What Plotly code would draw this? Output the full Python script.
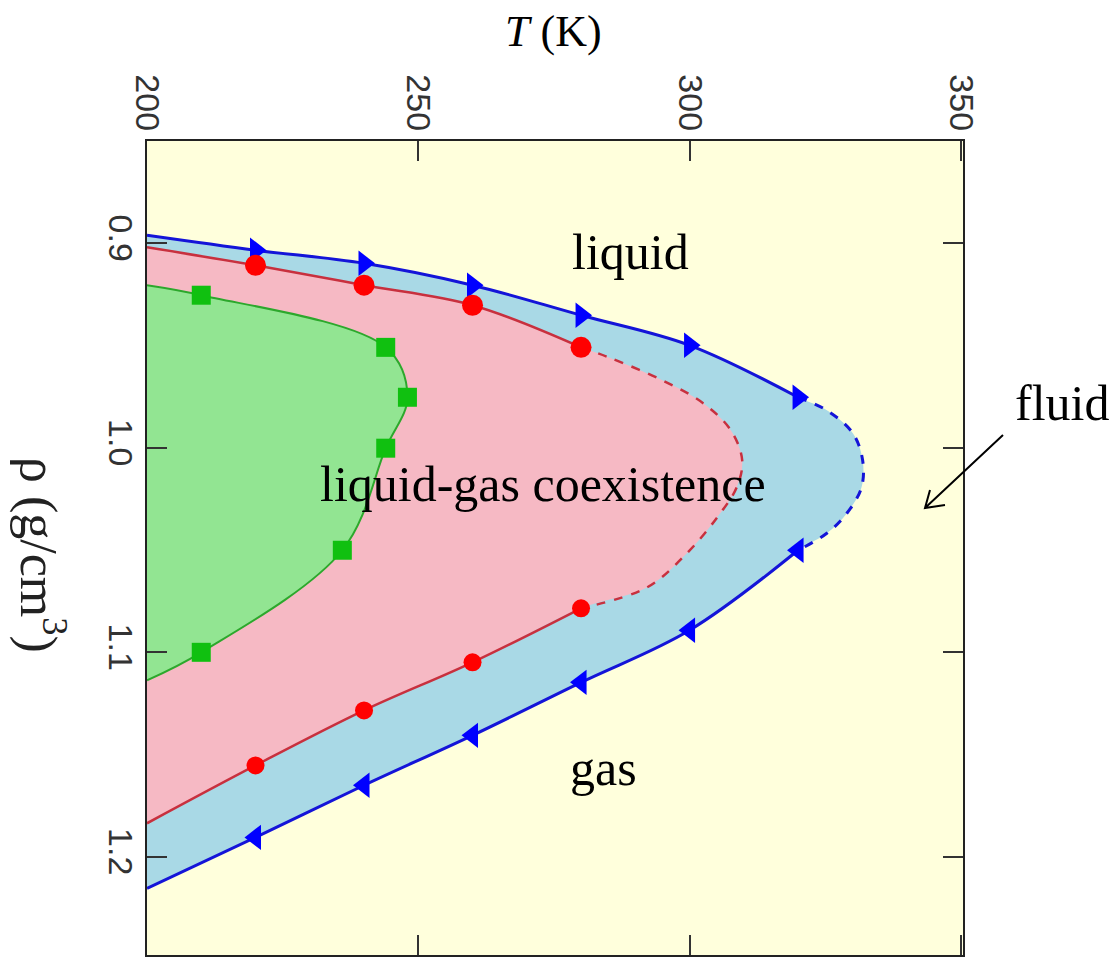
import plotly.graph_objects as go

# ---------------- data ----------------
# Blue (outer) boundary: triangle markers
T_blue = [220, 240, 260, 280, 300, 320]
rho_blue_upper = [0.9034, 0.9098, 0.9205, 0.9352, 0.9499, 0.9753]
rho_blue_lower = [1.1905, 1.1650, 1.1406, 1.1147, 1.0892, 1.0501]
# blue curve: ends at T=200 and dashed nose
blue_end_rho_upper = 0.8961
blue_end_rho_lower = 1.2154
blue_nose_T = [325.3, 330.1, 331.9, 331.7, 329.0, 325.3]
blue_nose_rho = [0.9817, 0.9929, 1.0061, 1.0193, 1.0320, 1.0418]

# Red (middle) boundary: circle markers
T_red = [220, 240, 260, 280]
rho_red_upper = [0.9108, 0.9205, 0.9303, 0.9509]
rho_red_lower = [1.1553, 1.1284, 1.1049, 1.0785]
red_end_rho_upper = 0.9020
red_end_rho_lower = 1.1836
red_nose_T = [285.0, 295.0, 302.5, 307.6, 309.7, 308.7, 305.1, 299.5, 292.2]
red_nose_rho = [0.9557, 0.9670, 0.9782, 0.9914, 1.0061, 1.0193, 1.0340, 1.0516, 1.0682]

# Green (inner) boundary: square markers
T_green = [210, 244, 248, 244, 236, 210]
rho_green = [0.9254, 0.9509, 0.9753, 1.0002, 1.0501, 1.1000]
green_end_rho_upper = 0.9205
green_end_rho_lower = 1.1137

T_edge = 200

x_ticks = [200, 250, 300, 350]
y_ticks = [0.9, 1.0, 1.1, 1.2]

# ---------------- styles ----------------
BG = "#FFFFDC"
BLUE_FILL = "#A9D9E6"
RED_FILL = "#F6B9C4"
GREEN_FILL = "#92E592"
BLUE_LINE = "#1414D8"
RED_LINE = "#C8303E"
GREEN_LINE = "#2CA82C"

fig = go.Figure()

def closed(Tu, ru, nT, nr, Tl, rl, e_up, e_lo):
    xs = [T_edge] + list(Tu) + list(nT) + list(Tl)[::-1] + [T_edge]
    ys = [e_up] + list(ru) + list(nr) + list(rl)[::-1] + [e_lo]
    return xs, ys

# fills
bx, by = closed(T_blue, rho_blue_upper, blue_nose_T, blue_nose_rho,
                T_blue, rho_blue_lower, blue_end_rho_upper, blue_end_rho_lower)
fig.add_trace(go.Scatter(x=bx, y=by, mode="lines", fill="toself", fillcolor=BLUE_FILL,
                         line=dict(width=0, shape="spline", color=BLUE_FILL),
                         hoverinfo="skip", showlegend=False))
rx, ry = closed(T_red, rho_red_upper, red_nose_T, red_nose_rho,
                T_red, rho_red_lower, red_end_rho_upper, red_end_rho_lower)
fig.add_trace(go.Scatter(x=rx, y=ry, mode="lines", fill="toself", fillcolor=RED_FILL,
                         line=dict(width=0, shape="spline", color=RED_FILL),
                         hoverinfo="skip", showlegend=False))
gx = [T_edge] + T_green + [T_edge]
gy = [green_end_rho_upper] + rho_green + [green_end_rho_lower]
fig.add_trace(go.Scatter(x=gx, y=gy, mode="lines", fill="toself", fillcolor=GREEN_FILL,
                         line=dict(width=2, shape="spline", color=GREEN_LINE),
                         hoverinfo="skip", showlegend=False))

# boundary lines
def add_line(xs, ys, color, width, dash="solid"):
    fig.add_trace(go.Scatter(x=xs, y=ys, mode="lines",
                             line=dict(color=color, width=width, dash=dash, shape="spline"),
                             hoverinfo="skip", showlegend=False))

# blue
add_line([T_edge] + T_blue, [blue_end_rho_upper] + rho_blue_upper, BLUE_LINE, 3)
add_line([T_blue[-1]] + blue_nose_T + [T_blue[-1]],
         [rho_blue_upper[-1]] + blue_nose_rho + [rho_blue_lower[-1]], BLUE_LINE, 3, "dash")
add_line([T_edge] + T_blue, [blue_end_rho_lower] + rho_blue_lower, BLUE_LINE, 3)
# red
add_line([T_edge] + T_red, [red_end_rho_upper] + rho_red_upper, RED_LINE, 2.5)
add_line([T_red[-1]] + red_nose_T + [T_red[-1]],
         [rho_red_upper[-1]] + red_nose_rho + [rho_red_lower[-1]], RED_LINE, 2.5, "dash")
add_line([T_edge] + T_red, [red_end_rho_lower] + rho_red_lower, RED_LINE, 2.5)

# markers
fig.add_trace(go.Scatter(x=T_blue, y=rho_blue_upper, mode="markers",
                         marker=dict(symbol="triangle-right", size=22, color="#0000FF"),
                         showlegend=False))
fig.add_trace(go.Scatter(x=T_blue, y=rho_blue_lower, mode="markers",
                         marker=dict(symbol="triangle-left", size=22, color="#0000FF"),
                         showlegend=False))
fig.add_trace(go.Scatter(x=T_red, y=rho_red_upper, mode="markers",
                         marker=dict(symbol="circle", size=21, color="#FF0000"),
                         showlegend=False))
fig.add_trace(go.Scatter(x=T_red, y=rho_red_lower, mode="markers",
                         marker=dict(symbol="circle", size=18, color="#FF0000"),
                         showlegend=False))
fig.add_trace(go.Scatter(x=T_green, y=rho_green, mode="markers",
                         marker=dict(symbol="square", size=19, color="#10C010"),
                         showlegend=False))

# ---------------- layout ----------------
# the page adds an 8px body margin, so the figure is drawn 8px smaller and offset
OFF = 8
W, H = 1119 - OFF, 958 - OFF
L, R, T, B = 147 - OFF, 156, 141 - OFF, 3
pw, ph = W - L - R, H - T - B

def px(x):
    return (x - OFF - L) / pw

def py(y):
    return (H - B - (y - OFF)) / ph

tick_font = dict(family="Liberation Sans, Arial, sans-serif", size=34, color="#333333")
serif = "Liberation Serif, Times New Roman, serif"

fig.update_layout(
    width=W, height=H,
    margin=dict(l=L, r=R, t=T, b=B, pad=0, autoexpand=False),
    paper_bgcolor="white",
    plot_bgcolor=BG,
    xaxis=dict(range=[200, 350.4], side="top", tickvals=x_ticks, ticktext=[str(v) for v in x_ticks],
               tickangle=90, ticks="inside", ticklen=20, tickwidth=2, tickcolor="#333333",
               showline=True, linecolor="#222222", linewidth=2, mirror="ticks",
               showgrid=False, zeroline=False, tickfont=tick_font, ticklabelstandoff=-4,
               automargin=False),
    yaxis=dict(range=[1.248, 0.85], tickvals=y_ticks, ticktext=["0.9", "1.0", "1.1", "1.2"],
               tickangle=90, ticks="inside", ticklen=20, tickwidth=2, tickcolor="#333333",
               showline=True, linecolor="#222222", linewidth=2, mirror="ticks",
               showgrid=False, zeroline=False, tickfont=tick_font, ticklabelstandoff=-5,
               automargin=False),
)

annots = [
    dict(text="liquid", x=px(630), y=py(252), size=50),
    dict(text="liquid-gas coexistence", x=px(543), y=py(484), size=50),
    dict(text="gas", x=px(603), y=py(768), size=50),
    dict(text="fluid", x=px(1062), y=py(403), size=50),
    dict(text="<i>T</i> (K)", x=px(553), y=py(32), size=44),
]
for a in annots:
    fig.add_annotation(text=a["text"], x=a["x"], y=a["y"], xref="paper", yref="paper",
                       xanchor="center", yanchor="middle", showarrow=False,
                       font=dict(family=serif, size=a["size"], color="black"))

fig.add_annotation(text="ρ (g/cm<sup>3</sup>)", x=px(42), y=py(555), xref="paper", yref="paper",
                   xanchor="center", yanchor="middle", showarrow=False, textangle=90,
                   font=dict(family=serif, size=52, color="#222222"))

# arrow pointing at the fluid region
fig.add_shape(type="path", xref="paper", yref="paper",
              path=(f"M {px(1003)},{py(435)} L {px(925)},{py(508)} "
                    f"M {px(945)},{py(505)} L {px(925)},{py(508)} L {px(930)},{py(490)}"),
              line=dict(color="black", width=2))

fig.write_html("out.html")
